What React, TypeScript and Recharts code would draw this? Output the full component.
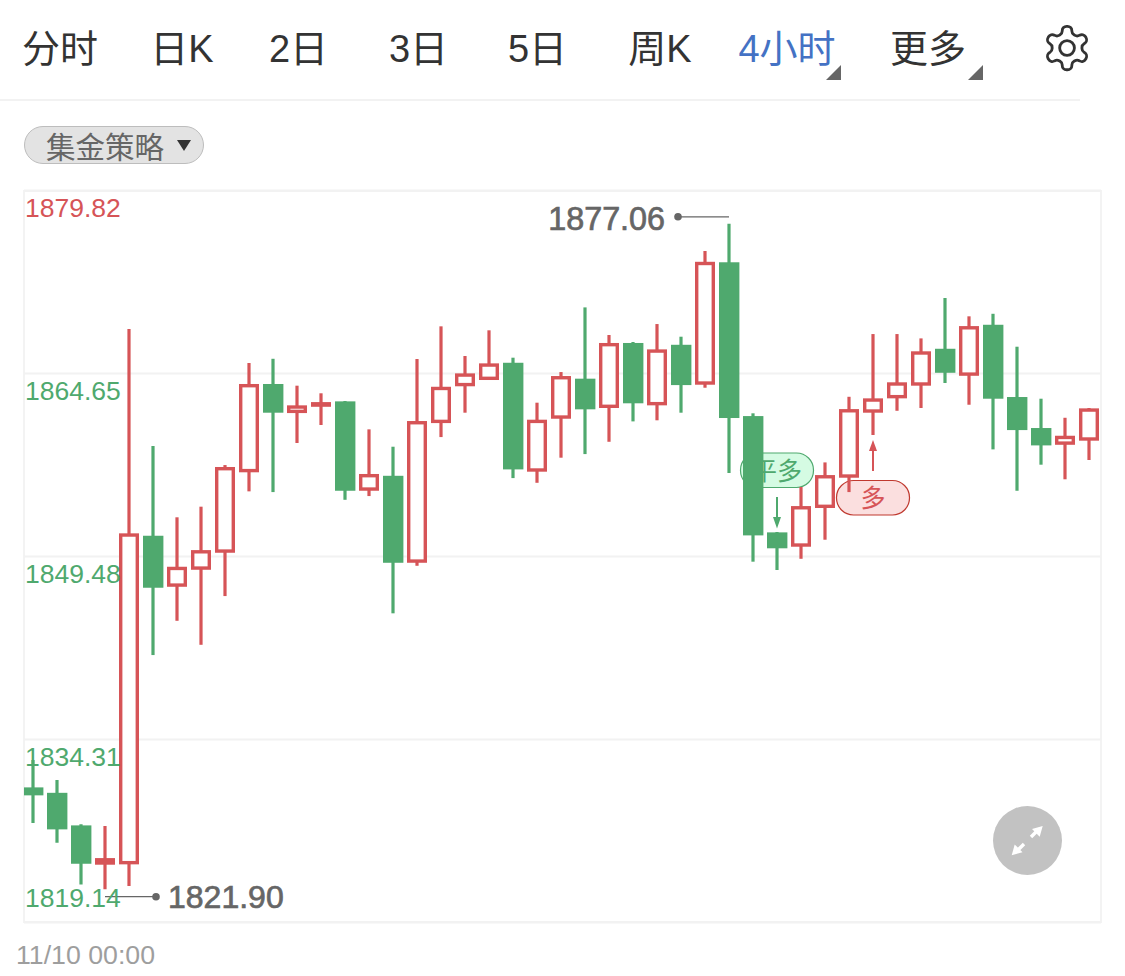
import React from 'react';
import { ComposedChart, Bar, XAxis, YAxis, CartesianGrid, ReferenceDot } from 'recharts';

const opens = [1830.34, 1829.89, 1827.19, 1823.93, 1823.96, 1851.2, 1846.97, 1848.38, 1849.79, 1856.46, 1863.78, 1861.37, 1861.89, 1862.34, 1854.93, 1856.17, 1848.96, 1860.54, 1863.59, 1864.11, 1865.54, 1856.51, 1860.9, 1864.22, 1861.79, 1867.18, 1862.01, 1867.03, 1863.72, 1873.87, 1861.12, 1851.48, 1850.29, 1853.5, 1856.01, 1861.4, 1862.59, 1863.64, 1866.7, 1864.46, 1868.69, 1862.7, 1860.13, 1858.74, 1859.08];
const closes = [1829.68, 1826.86, 1824.01, 1824.48, 1851.4, 1846.89, 1848.63, 1850.01, 1856.9, 1863.78, 1861.4, 1862.01, 1862.28, 1854.93, 1856.32, 1848.96, 1860.71, 1863.55, 1864.66, 1865.49, 1856.7, 1860.82, 1864.44, 1861.68, 1867.18, 1862.18, 1866.65, 1863.69, 1873.91, 1860.96, 1851.23, 1850.16, 1853.66, 1856.23, 1861.7, 1862.59, 1863.92, 1866.49, 1864.71, 1868.58, 1862.56, 1859.96, 1858.69, 1859.49, 1861.76];
const highs = [1832.61, 1830.95, 1827.28, 1827.13, 1868.34, 1858.64, 1852.73, 1853.61, 1857.06, 1865.52, 1865.87, 1863.64, 1863.01, 1862.37, 1860.02, 1858.58, 1865.85, 1868.56, 1866.1, 1868.23, 1865.96, 1862.23, 1864.77, 1870.13, 1867.84, 1867.26, 1868.75, 1867.7, 1874.8, 1877.06, 1861.35, 1851.51, 1855.24, 1857.28, 1862.72, 1867.92, 1867.92, 1867.56, 1870.91, 1869.39, 1869.6, 1866.87, 1862.56, 1860.98, 1861.79];
const lows = [1827.38, 1825.75, 1822.3, 1821.9, 1822.16, 1841.31, 1844.15, 1842.16, 1846.2, 1854.88, 1854.82, 1858.89, 1860.38, 1854.18, 1854.49, 1844.77, 1848.71, 1859.38, 1861.4, 1864.11, 1855.98, 1855.59, 1857.67, 1857.97, 1858.99, 1860.68, 1860.77, 1861.4, 1863.47, 1856.4, 1849.05, 1848.36, 1849.29, 1850.87, 1854.82, 1859.55, 1861.56, 1861.79, 1863.86, 1862.06, 1858.36, 1854.93, 1857.09, 1855.88, 1857.48];

const yTicks = [1819.14, 1834.31, 1849.48, 1864.65, 1879.82];
const firstTime = '11/10 00:00';
const periods = ['分时', '日K', '2日', '3日', '5日', '周K', '4小时', '更多'];
const periodCenters = [60, 182, 298.5, 418.5, 537.5, 660, 787, 928];

const RED = '#d65457';
const GREEN = '#4fa96e';
const GRAY = '#666';

const data = opens.map((open, i) => ({
  index: i,
  open,
  close: closes[i],
  high: highs[i],
  low: lows[i],
  range: [lows[i], highs[i]],
}));

const maxIndex = highs.indexOf(Math.max(...highs));
const minIndex = lows.indexOf(Math.min(...lows));

const Candle = ({ x, y, width, height, payload }: any) => {
  const perUnit = height / (payload.high - payload.low);
  const toY = (v: number) => y + (payload.high - v) * perUnit;
  const up = payload.close >= payload.open;
  const color = up ? RED : GREEN;
  const top = toY(Math.max(payload.open, payload.close));
  const bottom = toY(Math.min(payload.open, payload.close));
  const cx = x + width / 2;
  const left = Math.max(x, 24);
  return (
    <g>
      <line x1={cx} x2={cx} y1={y} y2={y + height} stroke={color} strokeWidth={3.2} />
      {up ? (
        <rect x={left + 1.7} y={top + 1.7} width={x + width - left - 3.4} height={Math.max(bottom - top - 3.4, 0.5)} fill="#fff" stroke={color} strokeWidth={3.4} />
      ) : (
        <rect x={left} y={top} width={x + width - left + 0.4} height={bottom - top} fill={color} />
      )}
    </g>
  );
};

const YTick = ({ y, payload }: any) => {
  const isTop = payload.value === yTicks[yTicks.length - 1];
  const isBottom = payload.value === yTicks[0];
  return (
    <text x={25} y={isBottom ? y - 16 : y + 26.5} fontSize={26.5} fontFamily="Liberation Sans" fill={isTop ? RED : GREEN}>
      {payload.value.toFixed(2)}
    </text>
  );
};

const XTick = () => (
  <text x={16} y={964} fontSize={26.7} fontFamily="Liberation Sans" fill="#9e9e9e">
    {firstTime}
  </text>
);

const HighMark = ({ cx, cy }: any) => (
  <g>
    <line x1={cx - 51} x2={cx} y1={cy - 7} y2={cy - 7} stroke={GRAY} strokeWidth={1.2} />
    <circle cx={cx - 51} cy={cy - 7} r={3.8} fill={GRAY} />
    <text x={cx - 64} y={cy + 6} textAnchor="end" fontSize={32.3} fontFamily="Liberation Sans" fill={GRAY} stroke={GRAY} strokeWidth={0.7}>
      {highs[maxIndex].toFixed(2)}
    </text>
  </g>
);

const LowMark = ({ cx, cy }: any) => (
  <g>
    <line x1={cx} x2={cx + 51} y1={cy + 7.5} y2={cy + 7.5} stroke={GRAY} strokeWidth={1.2} />
    <circle cx={cx + 51} cy={cy + 7.5} r={3.8} fill={GRAY} />
    <text x={cx + 63} y={cy + 19} fontSize={32} fontFamily="Liberation Sans" fill={GRAY} stroke={GRAY} strokeWidth={0.7}>
      {lows[minIndex].toFixed(2)}
    </text>
  </g>
);

// 平多 sits above the candle it points down to
const CloseSignal = ({ cx, cy }: any) => (
  <g>
    <rect x={cx - 36.5} y={cy - 79} width={73} height={34.5} rx={17} fill="#d5fbe3" stroke={GREEN} strokeWidth={1.2} />
    <text x={cx} y={cy - 52.5} textAnchor="middle" fontSize={25} fontFamily="Noto Sans CJK SC" fill={GREEN}>平多</text>
    <line x1={cx} x2={cx} y1={cy - 35} y2={cy - 14} stroke={GREEN} strokeWidth={2} />
    <polygon points={`${cx - 4},${cy - 15} ${cx + 4},${cy - 15} ${cx},${cy - 3.5}`} fill={GREEN} />
  </g>
);

// 多 sits below the candle it points up to
const OpenSignal = ({ cx, cy }: any) => (
  <g>
    <line x1={cx} x2={cx} y1={cy + 36} y2={cy + 15} stroke={RED} strokeWidth={2} />
    <polygon points={`${cx - 4},${cy + 16} ${cx + 4},${cy + 16} ${cx},${cy + 5}`} fill={RED} />
    <rect x={cx - 36.5} y={cy + 45.5} width={73} height={34.5} rx={17} fill="#fbdfdf" stroke="#c0392f" strokeWidth={1.2} />
    <text x={cx} y={cy + 72} textAnchor="middle" fontSize={25} fontFamily="Noto Sans CJK SC" fill={RED}>多</text>
  </g>
);

const Toolbar = () => (
  <>
    {periods.map((p, i) => (
      <div
        key={p}
        style={{
          position: 'absolute',
          top: 1,
          left: periodCenters[i] - 70,
          width: 140,
          height: 96,
          lineHeight: '96px',
          textAlign: 'center',
          fontSize: 38,
          fontFamily: '"Liberation Sans", "Noto Sans CJK SC"',
          color: p === '4小时' ? '#4472c4' : '#333',
        }}
      >
        {p}
      </div>
    ))}
    <div style={{ position: 'absolute', left: 0, top: 99, width: 1080, height: 2, background: '#f2f2f2' }} />
    <div
      style={{
        position: 'absolute',
        left: 24,
        top: 126,
        width: 180,
        height: 38,
        boxSizing: 'border-box',
        borderRadius: 19,
        background: '#e3e3e3',
        border: '1px solid #bdbdbd',
        paddingLeft: 21,
        lineHeight: '36px',
        fontSize: 29.5,
        fontFamily: '"Noto Sans CJK SC"',
        color: '#666',
      }}
    >
      集金策略
    </div>
    <svg width={1125} height={176} style={{ position: 'absolute', left: 0, top: 0 }}>
      <polygon points="826,80 841,80 841,65" fill="#666" />
      <polygon points="968,80 983,80 983,65" fill="#666" />
      <polygon points="177,140 191,140 184,151" fill="#333" />
      <g transform="translate(1041,22) scale(2.17)" fill="none" stroke="#333" strokeWidth={1.3} strokeLinejoin="round">
        <path d="M12.22 2h-.44a2 2 0 0 0-2 2v.18a2 2 0 0 1-1 1.73l-.43.25a2 2 0 0 1-2 0l-.15-.08a2 2 0 0 0-2.73.73l-.22.38a2 2 0 0 0 .73 2.73l.15.1a2 2 0 0 1 1 1.72v.51a2 2 0 0 1-1 1.74l-.15.09a2 2 0 0 0-.73 2.73l.22.38a2 2 0 0 0 2.73.73l.15-.08a2 2 0 0 1 2 0l.43.25a2 2 0 0 1 1 1.73V20a2 2 0 0 0 2 2h.44a2 2 0 0 0 2-2v-.18a2 2 0 0 1 1-1.73l.43-.25a2 2 0 0 1 2 0l.15.08a2 2 0 0 0 2.73-.73l.22-.39a2 2 0 0 0-.73-2.73l-.15-.08a2 2 0 0 1-1-1.74v-.5a2 2 0 0 1 1-1.74l.15-.09a2 2 0 0 0 .73-2.73l-.22-.38a2 2 0 0 0-2.73-.73l-.15.08a2 2 0 0 1-2 0l-.43-.25a2 2 0 0 1-1-1.73V4a2 2 0 0 0-2-2z" />
        <circle cx={12} cy={12} r={3.4} />
      </g>
    </svg>
  </>
);

const ExpandButton = () => (
  <svg width={80} height={80} style={{ position: 'absolute', left: 988, top: 801 }}>
    <circle cx={39.5} cy={39.5} r={34.5} fill="#c2c2c2" />
    <g fill="#fff" stroke="#fff" strokeWidth={3.4}>
      <line x1={43} y1={36} x2={50} y2={29} />
      <line x1={36} y1={43} x2={29} y2={50} />
    </g>
    <polygon points="54.7,25 44,28 51.7,35.7" fill="#fff" />
    <polygon points="23.7,54.3 34.5,51.3 26.7,43.5" fill="#fff" />
  </svg>
);

export default function App() {
  return (
    <div style={{ position: 'absolute', left: 0, top: 0, width: 1125, height: 976, background: '#fff', overflow: 'hidden' }}>
      <Toolbar />
      <div style={{ position: 'absolute', left: 23, top: 190, width: 1079, height: 733, boxSizing: 'border-box', border: '2px solid #f3f3f3' }} />
      <div style={{ position: 'absolute', left: 0, top: 0 }}>
        <ComposedChart width={1125} height={976} data={data} margin={{ top: 190.5, right: 24, bottom: 0, left: 20 }}>
          <CartesianGrid x={24} width={1077} vertical={false} stroke="#f2f2f2" strokeWidth={2} />
          <XAxis dataKey="index" height={53.5} ticks={[0]} axisLine={false} tickLine={false} tick={<XTick />} />
          <YAxis width={1} domain={[yTicks[0], yTicks[4]]} ticks={yTicks} interval={0} axisLine={false} tickLine={false} tick={<YTick />} allowDataOverflow zIndex={100} />
          <ReferenceDot x={31} y={highs[31]} shape={<CloseSignal />} ifOverflow="visible" zIndex={200} />
          <ReferenceDot x={35} y={lows[35]} shape={<OpenSignal />} ifOverflow="visible" zIndex={200} />
          <Bar dataKey="range" barSize={20} isAnimationActive={false} shape={(p: any) => <Candle {...p} />} />
          <ReferenceDot x={maxIndex} y={highs[maxIndex]} shape={<HighMark />} ifOverflow="visible" />
          <ReferenceDot x={minIndex} y={lows[minIndex]} shape={<LowMark />} ifOverflow="visible" />
        </ComposedChart>
      </div>
      <ExpandButton />
    </div>
  );
}
